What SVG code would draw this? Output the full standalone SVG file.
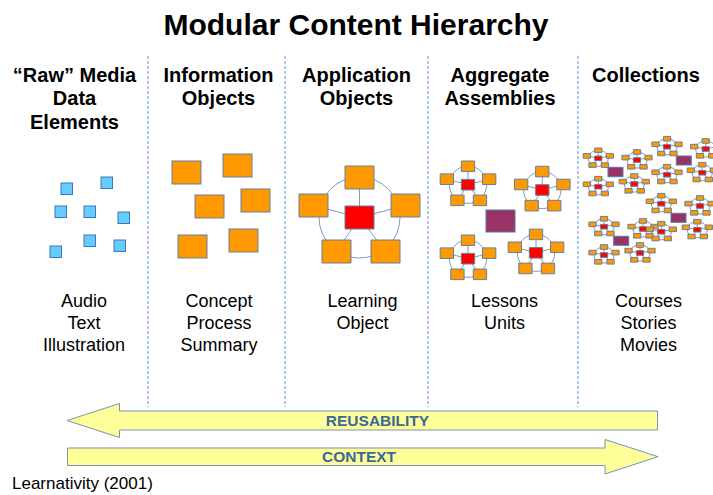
<svg xmlns="http://www.w3.org/2000/svg" xmlns:xlink="http://www.w3.org/1999/xlink" width="713" height="495" viewBox="0 0 713 495">
<style>
.title{font-family:"Liberation Sans",Arial,sans-serif;font-weight:bold;font-size:30px;fill:#000;text-anchor:middle}
.hdr{font-family:"Liberation Sans",Arial,sans-serif;font-weight:bold;font-size:20px;fill:#000;text-anchor:middle}
.body{font-family:"Liberation Sans",Arial,sans-serif;font-size:18px;fill:#000;text-anchor:middle}
.note{font-family:"Liberation Sans",Arial,sans-serif;font-size:17px;fill:#000}
.arrtxt{font-family:"Liberation Sans",Arial,sans-serif;font-weight:bold;font-size:15.5px;fill:#3b679a;text-anchor:middle}
.div{stroke:#5b8fdc;stroke-width:1;stroke-dasharray:3,2;fill:none}
.blue{fill:#66ccff;stroke:#3e78b2;stroke-width:1}
.org{fill:#ff9900;stroke:#667f9e;stroke-width:1}
.red{fill:#ff0000;stroke:#667f9e;stroke-width:1}
.pur{fill:#993366;stroke:#5a79a0;stroke-width:1}
.lnk{fill:none;stroke:#7d9cc0;stroke-width:1}
.arr{fill:#ffff99;stroke:#7594b4;stroke-width:1}
</style>
<defs>
<g id="mol">
<circle class="lnk" cx="0" cy="0" r="40.5" vector-effect="non-scaling-stroke"/>
<path class="lnk" d="M0,0L0,-40M0,0L-46,-12M0,0L46,-12M0,0L-23,34M0,0L26,34" vector-effect="non-scaling-stroke"/>
<rect class="org" x="-14.5" y="-51.5" width="29" height="23" vector-effect="non-scaling-stroke"/>
<rect class="org" x="-60.5" y="-23.5" width="29" height="23" vector-effect="non-scaling-stroke"/>
<rect class="org" x="31.5" y="-23.5" width="29" height="23" vector-effect="non-scaling-stroke"/>
<rect class="org" x="-37.5" y="22.5" width="29" height="23" vector-effect="non-scaling-stroke"/>
<rect class="org" x="11.5" y="22.5" width="29" height="23" vector-effect="non-scaling-stroke"/>
<rect class="red" x="-14.5" y="-11.5" width="29" height="23" vector-effect="non-scaling-stroke"/>
</g>
</defs>
<rect width="713" height="495" fill="#fff"/>
<text class="title" x="356" y="35">Modular Content Hierarchy</text>

<g id="dividers">
<line class="div" x1="148" y1="56" x2="148" y2="407"/>
<line class="div" x1="285" y1="56" x2="285" y2="407"/>
<line class="div" x1="428" y1="56" x2="428" y2="407"/>
<line class="div" x1="578" y1="56" x2="578" y2="407"/>
</g>

<g id="raw-media">
<text class="hdr" x="74.5" y="81.5">“Raw” Media</text>
<text class="hdr" x="74.5" y="105">Data</text>
<text class="hdr" x="74.5" y="128.5">Elements</text>
<rect class="blue" x="61" y="183" width="11.5" height="11.5"/>
<rect class="blue" x="101" y="177" width="11.5" height="11.5"/>
<rect class="blue" x="55" y="206" width="11.5" height="11.5"/>
<rect class="blue" x="84" y="206" width="11.5" height="11.5"/>
<rect class="blue" x="118" y="212" width="11.5" height="11.5"/>
<rect class="blue" x="84" y="235" width="11.5" height="11.5"/>
<rect class="blue" x="114" y="240" width="11.5" height="11.5"/>
<rect class="blue" x="50" y="246" width="11.5" height="11.5"/>
<text class="body" x="84" y="307">Audio</text>
<text class="body" x="84" y="329">Text</text>
<text class="body" x="84" y="351">Illustration</text>
</g>

<g id="information-objects">
<text class="hdr" x="218.5" y="81.5">Information</text>
<text class="hdr" x="218.5" y="105">Objects</text>
<rect class="org" x="172" y="161" width="29" height="23"/>
<rect class="org" x="223" y="154" width="29" height="23"/>
<rect class="org" x="195" y="195" width="29" height="23"/>
<rect class="org" x="241" y="189" width="29" height="23"/>
<rect class="org" x="178" y="235" width="29" height="23"/>
<rect class="org" x="229" y="229" width="29" height="23"/>
<text class="body" x="219" y="307">Concept</text>
<text class="body" x="219" y="329">Process</text>
<text class="body" x="219" y="351">Summary</text>
</g>

<g id="application-objects">
<text class="hdr" x="356.5" y="81.5">Application</text>
<text class="hdr" x="356.5" y="105">Objects</text>
<use xlink:href="#mol" href="#mol" transform="translate(359.5,217.5)"/>
<text class="body" x="362.5" y="307">Learning</text>
<text class="body" x="362.5" y="329">Object</text>
</g>

<g id="aggregate-assemblies">
<text class="hdr" x="500" y="81.5">Aggregate</text>
<text class="hdr" x="500" y="105">Assemblies</text>
<use xlink:href="#mol" href="#mol" transform="translate(468,184.7) scale(0.46)"/>
<use xlink:href="#mol" href="#mol" transform="translate(542.3,190) scale(0.46)"/>
<use xlink:href="#mol" href="#mol" transform="translate(468,258.7) scale(0.46)"/>
<use xlink:href="#mol" href="#mol" transform="translate(536,252.8) scale(0.46)"/>
<rect class="pur" x="486" y="210" width="29" height="22"/>
<text class="body" x="504.5" y="307">Lessons</text>
<text class="body" x="504.5" y="329">Units</text>
</g>

<g id="collections">
<text class="hdr" x="646" y="81.5">Collections</text>
<use xlink:href="#mol" href="#mol" transform="translate(598.3,158.3) scale(0.25,0.2)"/>
<use xlink:href="#mol" href="#mol" transform="translate(637,160) scale(0.25,0.2)"/>
<use xlink:href="#mol" href="#mol" transform="translate(667,146.7) scale(0.25,0.2)"/>
<use xlink:href="#mol" href="#mol" transform="translate(705.7,149) scale(0.25,0.2)"/>
<use xlink:href="#mol" href="#mol" transform="translate(598.3,186.7) scale(0.25,0.2)"/>
<use xlink:href="#mol" href="#mol" transform="translate(634.3,184) scale(0.25,0.2)"/>
<use xlink:href="#mol" href="#mol" transform="translate(667,174.7) scale(0.25,0.2)"/>
<use xlink:href="#mol" href="#mol" transform="translate(702.3,172.7) scale(0.25,0.2)"/>
<use xlink:href="#mol" href="#mol" transform="translate(661.3,203.7) scale(0.25,0.2)"/>
<use xlink:href="#mol" href="#mol" transform="translate(700,206) scale(0.25,0.2)"/>
<use xlink:href="#mol" href="#mol" transform="translate(604,226.7) scale(0.25,0.2)"/>
<use xlink:href="#mol" href="#mol" transform="translate(643,229) scale(0.25,0.2)"/>
<use xlink:href="#mol" href="#mol" transform="translate(661.3,231.7) scale(0.25,0.2)"/>
<use xlink:href="#mol" href="#mol" transform="translate(697.3,229.7) scale(0.25,0.2)"/>
<use xlink:href="#mol" href="#mol" transform="translate(604,255) scale(0.25,0.2)"/>
<use xlink:href="#mol" href="#mol" transform="translate(640,253) scale(0.25,0.2)"/>
<rect class="pur" x="608" y="167.3" width="15" height="9.4"/>
<rect class="pur" x="676.3" y="156" width="15" height="9"/>
<rect class="pur" x="671" y="213.3" width="15" height="9"/>
<rect class="pur" x="613.7" y="236.3" width="15" height="9"/>
<text class="body" x="648.5" y="307">Courses</text>
<text class="body" x="648.5" y="329">Stories</text>
<text class="body" x="648.5" y="351">Movies</text>
</g>

<g id="arrows">
<g id="reusability">
<polygon class="arr" points="67,420.5 119.5,403.5 119.5,411 657.5,411 657.5,430 119.5,430 119.5,437.5"/>
<text class="arrtxt" x="377.5" y="426">REUSABILITY</text>
</g>
<g id="context">
<polygon class="arr" points="67.5,448 605,448 605,439.5 658,456.7 605,474 605,465.5 67.5,465.5"/>
<text class="arrtxt" x="359" y="462">CONTEXT</text>
</g>
</g>

<text class="note" x="12" y="489">Learnativity (2001)</text>
</svg>
